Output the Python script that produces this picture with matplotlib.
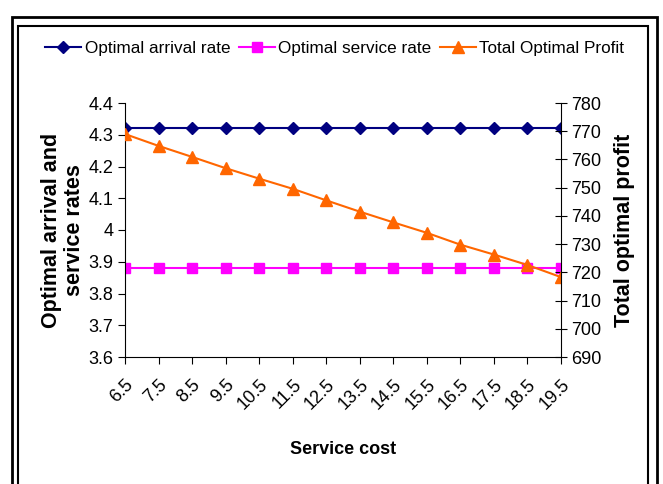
import matplotlib.pyplot as plt
from matplotlib.patches import Rectangle
from matplotlib.ticker import FuncFormatter

plt.rcParams['font.family'] = ['Liberation Sans', 'DejaVu Sans']

service_cost = ['6.5', '7.5', '8.5', '9.5', '10.5', '11.5', '12.5',
                '13.5', '14.5', '15.5', '16.5', '17.5', '18.5', '19.5']
arrival_rate = [4.32] * 14
service_rate = [3.88] * 14
total_profit = [769.0, 764.8, 760.9, 756.9, 753.2, 749.6, 745.5,
                741.5, 737.7, 734.0, 729.8, 726.3, 722.6, 718.3]

W, H = 663, 484
fig = plt.figure(figsize=(W / 100, H / 100), dpi=100)
ax = fig.add_axes([125 / W, 1 - 357 / H, (561 - 125) / W, (357 - 103) / H])
ax2 = ax.twinx()

x = list(range(len(service_cost)))
l1, = ax.plot(x, arrival_rate, color='#000080', marker='D', markersize=6.5, lw=1.5)
l2, = ax.plot(x, service_rate, color='#FF00FF', marker='s', markersize=6.5, lw=1.5)
l3, = ax2.plot(x, total_profit, color='#FF6600', marker='^', markersize=8.5, lw=1.5)

ax.set_xlim(0, len(x) - 1)
ax.set_ylim(3.6, 4.4)
ax.set_yticks([3.6 + 0.1 * i for i in range(9)])
ax.yaxis.set_major_formatter(FuncFormatter(lambda v, p: f'{round(v, 1):g}'))
ax2.set_ylim(690, 780)
ax2.set_yticks(range(690, 781, 10))

ax.set_xticks(x)
ax.set_xticklabels(service_cost, rotation=45, ha='right', va='top',
                   rotation_mode='anchor', fontsize=13)
ax.tick_params(axis='x', direction='out', length=5, pad=9)
ax.tick_params(axis='y', direction='out', length=5, labelsize=13)
ax2.tick_params(axis='y', direction='inout', length=8, labelsize=13)

for a in (ax, ax2):
    a.spines['top'].set_visible(False)
ax.spines['right'].set_visible(False)
ax2.spines['left'].set_visible(False)
ax2.spines['bottom'].set_visible(False)

ax.set_xlabel('Service cost', fontsize=13, fontweight='bold', labelpad=20)
ax.set_ylabel('Optimal arrival and\nservice rates', fontsize=15.5,
              fontweight='bold', labelpad=2, linespacing=1.15)
ax2.set_ylabel('Total optimal profit', fontsize=15.5, fontweight='bold', labelpad=9)

fig.legend([l1, l2, l3],
           ['Optimal arrival rate', 'Optimal service rate', 'Total Optimal Profit'],
           loc='center', bbox_to_anchor=(0.505, 1 - 48 / H), ncol=3, frameon=False,
           fontsize=12.3, handlelength=2.1, columnspacing=0.5, handletextpad=0.2)

# double frame around the chart
fig.patches.append(Rectangle((12 / W, -0.05), (657 - 12) / W, 1.05 - 17 / H,
                             transform=fig.transFigure, fill=False, lw=2, ec='black'))
fig.patches.append(Rectangle((18 / W, -0.05), (648 - 18) / W, 1.05 - 26 / H,
                             transform=fig.transFigure, fill=False, lw=1.5, ec='black'))

fig.savefig('out.png', dpi=100)
